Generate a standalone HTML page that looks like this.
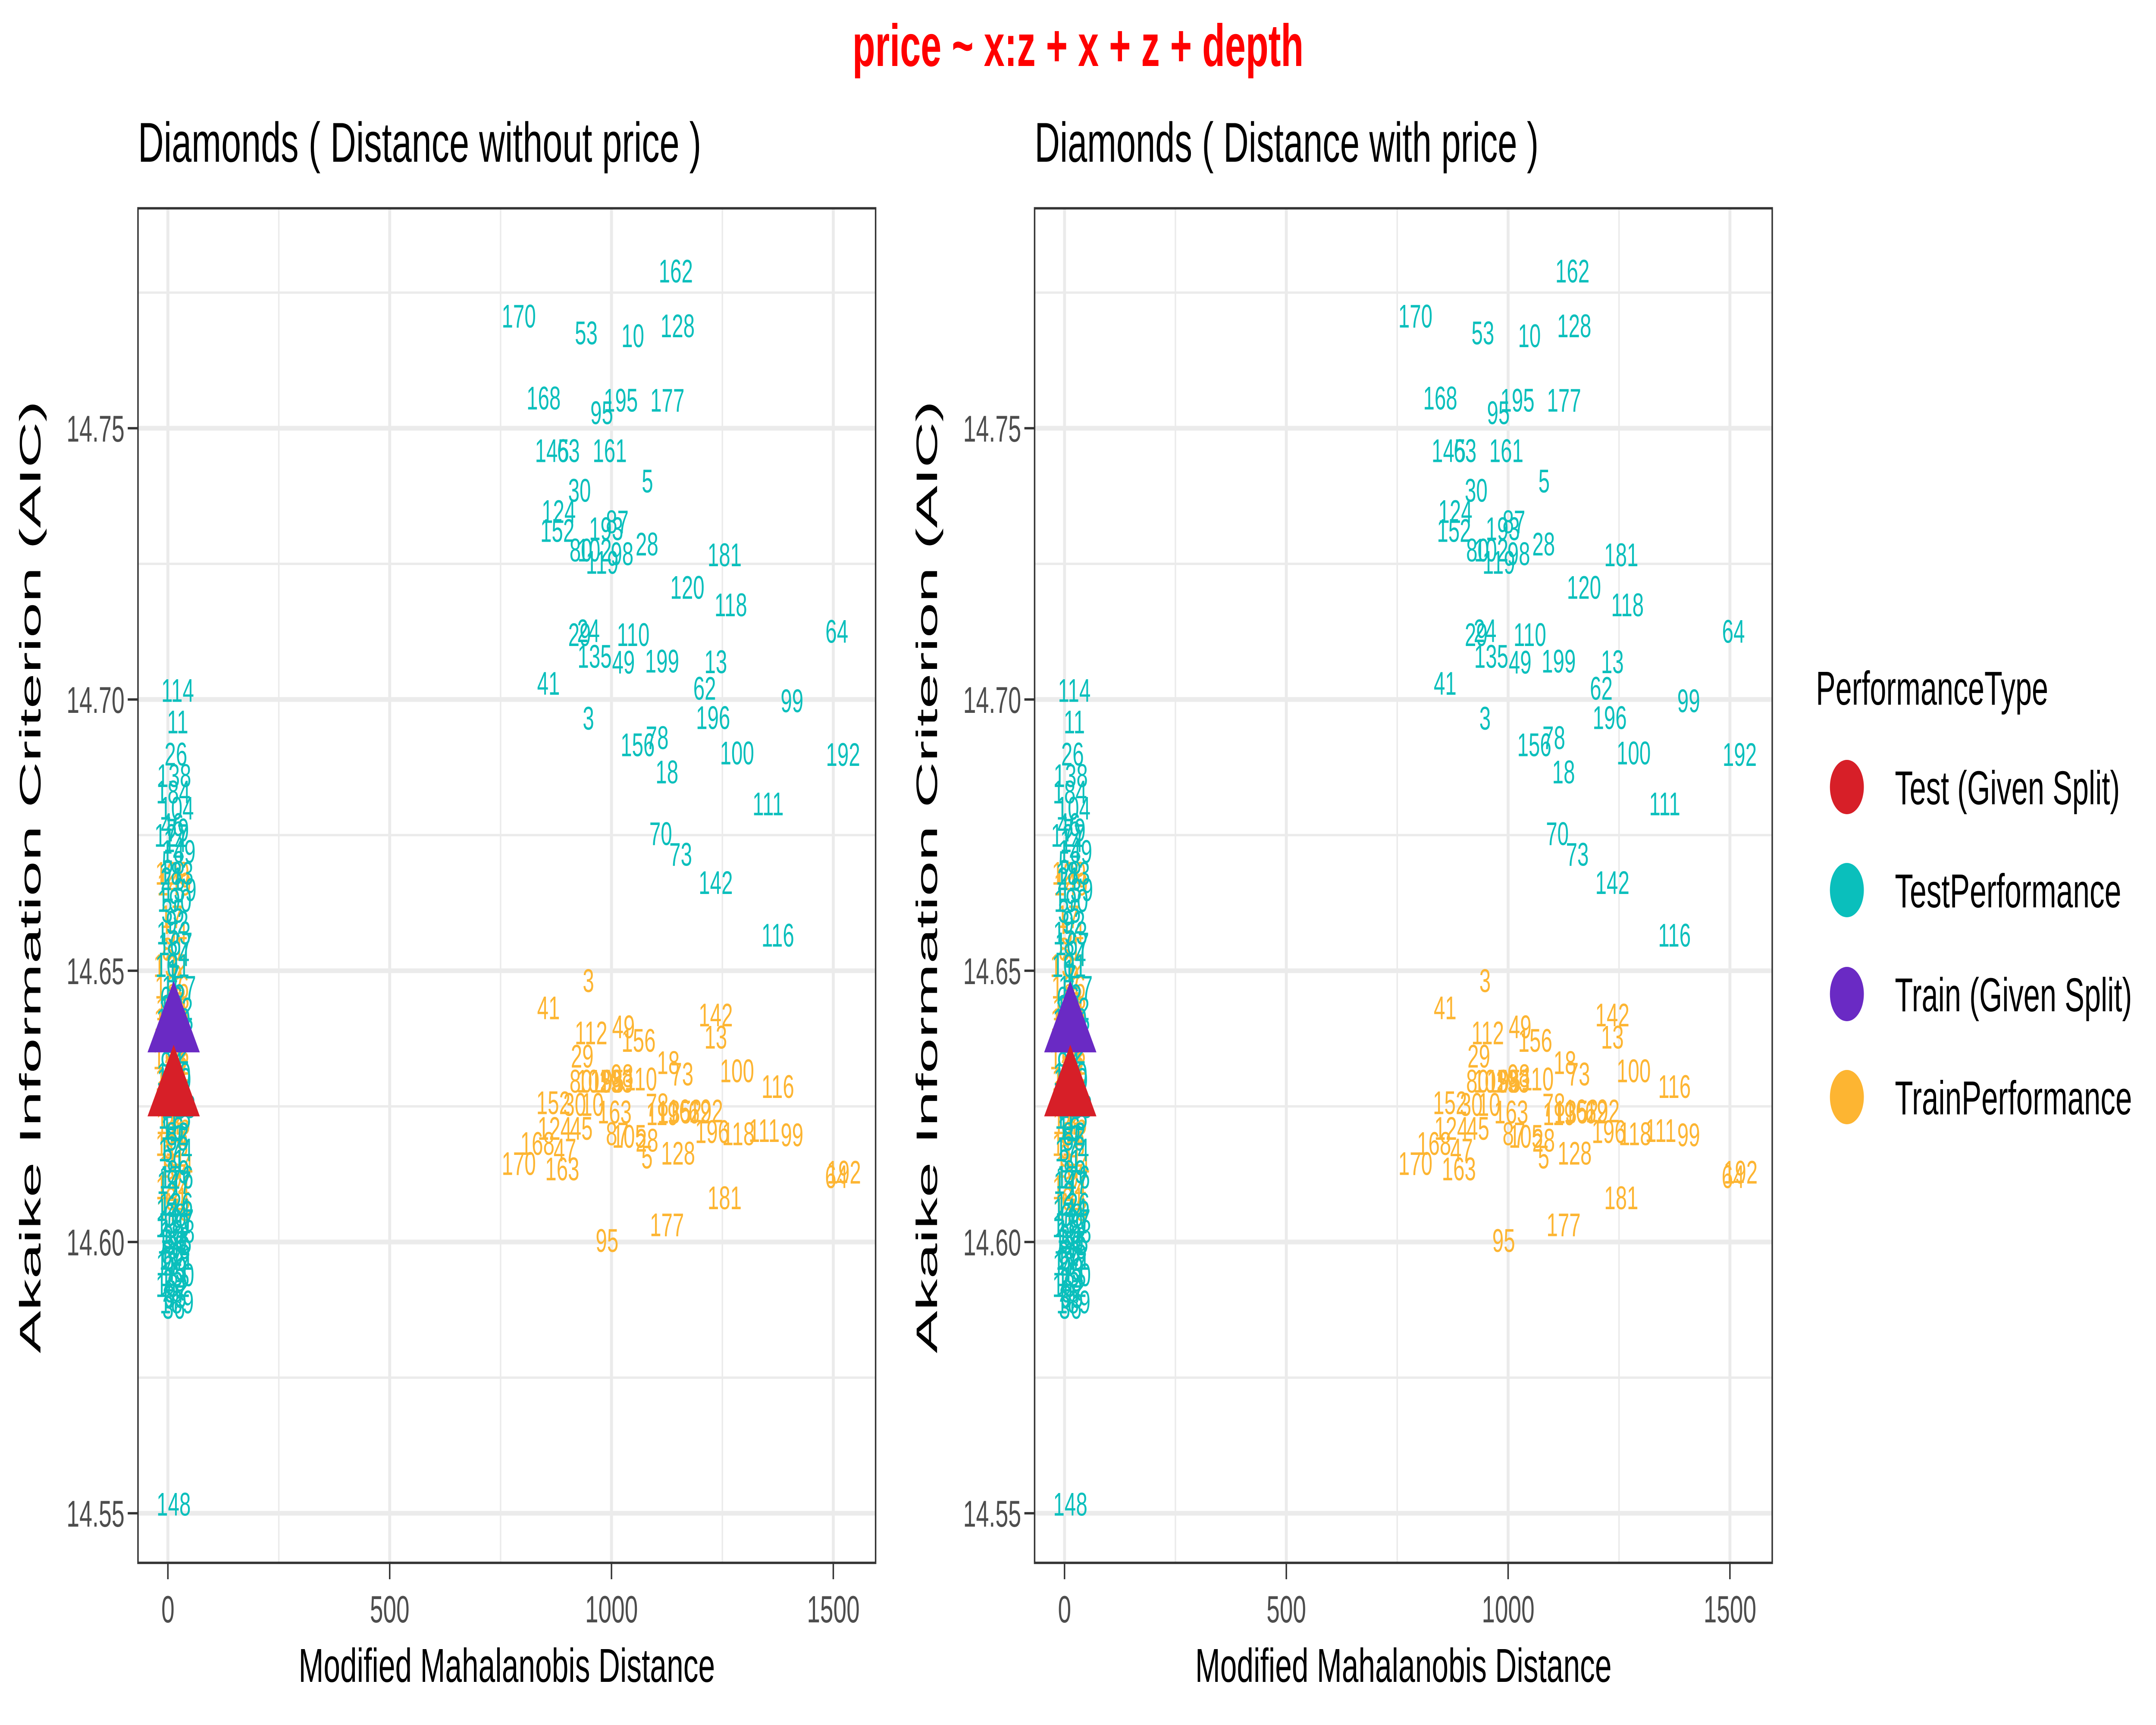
<!DOCTYPE html>
<html><head><meta charset="utf-8"><style>
html,body{margin:0;padding:0;background:#fff;width:100%;height:100%;overflow:hidden;}
svg{display:block;width:100vw;height:100vh;font-family:"Liberation Sans",Arial,sans-serif;}
</style></head><body>
<svg id="chart" viewBox="0 0 8000 4000" preserveAspectRatio="none" xmlns="http://www.w3.org/2000/svg">
<rect width="8000" height="4000" fill="#fff"/>
<text x="4000" y="153" text-anchor="middle" font-weight="bold" font-size="138" fill="#ff0000" textLength="1674" lengthAdjust="spacingAndGlyphs">price ~ x:z + x + z + depth</text>
<g id="panels"></g>
<g id="legend">
<text x="6738" y="1634" font-size="110" fill="#000" textLength="862" lengthAdjust="spacingAndGlyphs">PerformanceType</text>
</g>
</svg>
<script>
const NS="http://www.w3.org/2000/svg";
// ---- data ----
const xTicks=[0,500,1000,1500];
const xMinor=[250,750,1250];
const yTicks=[14.55,14.60,14.65,14.70,14.75];
const yTickLabels=["14.55","14.60","14.65","14.70","14.75"];
const yMinor=[14.575,14.625,14.675,14.725,14.775];
const testFarLabels=["162","170","53","10","128","168","95","195","177","145","63","161","5","30","124","152","87","193","80","102","119","98","28","181","120","118","24","29","110","135","49","199","13","64","41","62","99","3","196","78","156","100","192","18","111","70","73","142","116","114","11","148"];
const testFarX=[1145,791,943,1048,1149,847,978,1021,1126,866,903,996,1081,928,881,878,1013,988,931,962,979,1024,1080,1255,1171,1269,948,928,1049,962,1027,1114,1235,1508,858,1210,1407,948,1229,1103,1059,1283,1522,1125,1353,1111,1156,1235,1375,22,22,13];
const testFarY=[14.779,14.7707,14.7676,14.7671,14.7689,14.7556,14.7529,14.7552,14.7552,14.7459,14.7459,14.7459,14.7403,14.7386,14.7347,14.7312,14.7328,14.7315,14.7276,14.7276,14.7253,14.7269,14.7287,14.7267,14.7207,14.7175,14.7127,14.712,14.712,14.708,14.7069,14.7071,14.707,14.7126,14.703,14.7021,14.6998,14.6966,14.6967,14.693,14.6917,14.6902,14.6899,14.6867,14.6808,14.6753,14.6715,14.6663,14.6566,14.7017,14.6959,14.5517];
const trainFarLabels=["3","41","142","112","49","156","13","29","18","73","100","116","110","98","80","102","195","53","193","163","152","30","10","78","119","135","162","62","192","124","45","87","105","28","5","128","196","118","111","99","168","47","170","163","64","192","181","177","95"];
const trainFarX=[948,858,1235,954,1027,1061,1235,934,1128,1159,1283,1375,1066,1024,931,960,990,1000,1010,1007,869,917,957,1103,1115,1142,1165,1199,1213,872,932,1013,1040,1080,1080,1150,1227,1286,1344,1407,833,895,791,889,1507,1524,1255,1125,990];
const trainFarY=[14.6482,14.6432,14.6419,14.6386,14.6397,14.6372,14.6378,14.6343,14.6331,14.631,14.6316,14.6287,14.6301,14.6307,14.6297,14.6297,14.6297,14.6297,14.6297,14.624,14.6257,14.6254,14.6254,14.6253,14.6237,14.624,14.6242,14.624,14.6242,14.621,14.621,14.62,14.6195,14.6188,14.6157,14.6164,14.6204,14.62,14.6206,14.6198,14.6182,14.617,14.6145,14.6135,14.6121,14.6129,14.6082,14.6032,14.6003];
const testNearLabels=["26","138","184","104","46","79","127","14","149","58","183","21","139","190","35","92","153","167","84","101","7","157","66","122","180","143","39","12","94","160","71","133","188","115","16","55","174","31","89","147","2","126","68","197","159","108","33","175","86","60","171","137","43","150","23","182","97","65","189","36","57","50","144","176","82","130","44","1"];
const testNearX=[18,14,12,20,10,22,8,16,24,12,19,9,26,15,11,21,13,17,23,10,14,25,8,18,12,20,16,22,9,13,19,11,24,15,10,21,17,12,23,14,9,18,16,20,11,22,13,15,24,10,19,12,17,21,14,11,18,16,20,13,15,17,12,19,22,14,16,10];
const testNearY=[14.690,14.686,14.683,14.680,14.677,14.676,14.675,14.674,14.672,14.670,14.668,14.667,14.665,14.663,14.661,14.659,14.657,14.655,14.653,14.651,14.649,14.647,14.645,14.643,14.641,14.639,14.637,14.635,14.633,14.631,14.629,14.627,14.625,14.623,14.621,14.619,14.617,14.615,14.613,14.611,14.609,14.607,14.605,14.604,14.603,14.602,14.601,14.600,14.599,14.598,14.597,14.596,14.595,14.594,14.593,14.592,14.591,14.590,14.589,14.588,14.597,14.600,14.606,14.612,14.620,14.630,14.640,14.650];
const trainNearLabels=["129","149","17","54","81","132","9","166","48","103","140","25","88","158","34","121","74","185","6","146","37","113","91","154","19","134","61","178","42","107","15","164","85"];
const trainNearX=[10,14,8,18,12,6,20,9,15,11,7,22,13,5,17,10,24,8,16,12,21,9,14,18,6,11,19,13,23,10,15,12,17];
const trainNearY=[14.668,14.666,14.660,14.657,14.654,14.651,14.649,14.647,14.645,14.643,14.641,14.639,14.637,14.634,14.632,14.630,14.628,14.626,14.624,14.622,14.620,14.618,14.616,14.614,14.612,14.610,14.608,14.606,14.633,14.638,14.644,14.628,14.620];
const splitNames=["Train (Given Split)","Test (Given Split)"];
const splitX=[13,13];
const splitY=[14.641,14.6292];
const legendLabels=["Test (Given Split)","TestPerformance","Train (Given Split)","TrainPerformance"];
const legendColors=["#d71f28","#0abfbc","#6a2ac4","#fdb532"];
const legendWidths=[835,840,880,880];
const subtitles=["Diamonds ( Distance without price )","Diamonds ( Distance with price )"];

const TEAL="#0abfbc",ORANGE="#fdb532";
const panelOffsets=[0,3327];
const L=512,R=3249,T=483,B=3624;
function sx(v,o){return o+623+v*1.646;}
function sy(v){return 993+(14.75-v)*12580;}
function mk(tag,attrs,parent){const e=document.createElementNS(NS,tag);for(const k in attrs)e.setAttribute(k,attrs[k]);parent.appendChild(e);return e;}

const panels=document.getElementById('panels');
panelOffsets.forEach((o,pi)=>{
  const g=mk('g',{},panels);
  
  
  const bg=mk('rect',{x:L+o,y:T,width:R-L,height:B-T,fill:'#fff'},g);
  
  
  xMinor.forEach(v=>{const l=mk('line',{x1:sx(v,o),x2:sx(v,o),y1:T,y2:B,stroke:'#ebebeb','stroke-width':5.5},g);
    
    });
  yMinor.forEach(v=>{const l=mk('line',{x1:L+o,x2:R+o,y1:sy(v),y2:sy(v),stroke:'#ebebeb','stroke-width':5.5},g);
    
    });
  xTicks.forEach(v=>{const l=mk('line',{x1:sx(v,o),x2:sx(v,o),y1:T,y2:B,stroke:'#ebebeb','stroke-width':11},g);
    
    
    const t=mk('line',{x1:sx(v,o),x2:sx(v,o),y1:B,y2:B+38,stroke:'#333','stroke-width':5.5},g);
    
    
    const tl=mk('text',{x:sx(v,o),y:3762,'text-anchor':'middle','font-size':88,fill:'#4d4d4d'},g);
    tl.textContent=String(v);
    
    });
  yTicks.forEach((v,i)=>{const l=mk('line',{x1:L+o,x2:R+o,y1:sy(v),y2:sy(v),stroke:'#ebebeb','stroke-width':11},g);
    
    
    const t=mk('line',{x1:L+o-38,x2:L+o,y1:sy(v),y2:sy(v),stroke:'#333','stroke-width':5.5},g);
    
    
    const tl=mk('text',{x:L+o-50,y:sy(v)+31,'text-anchor':'end','font-size':86,fill:'#4d4d4d'},g);
    tl.textContent=yTickLabels[i];
    
    });
  function labels(lbl,xs,ys,col,name){
    lbl.forEach((s,i)=>{const t=mk('text',{x:sx(xs[i],o),y:sy(ys[i])+27,'text-anchor':'middle','font-size':76,fill:col},g);
      t.textContent=s;
      
      });
  }
  labels(trainNearLabels,trainNearX,trainNearY,ORANGE,'train-performance-label');
  labels(testNearLabels,testNearX,testNearY,TEAL,'test-performance-label');
  labels(trainFarLabels,trainFarX,trainFarY,ORANGE,'train-performance-label');
  labels(testFarLabels,testFarX,testFarY,TEAL,'test-performance-label');
  splitNames.forEach((n,i)=>{const cx=sx(splitX[i],o),cy=sy(splitY[i]);
    const p=mk('polygon',{points:`${cx},${cy-90} ${cx-97},${cy+76} ${cx+97},${cy+76}`,fill:i==0?'#6a2ac4':'#d71f28'},g);
    
    });
  const br=mk('rect',{x:L+o,y:T,width:R-L,height:B-T,fill:'none',stroke:'#333','stroke-width':5.5},g);
  
  
  const st=mk('text',{x:L+o,y:375,'font-size':130,fill:'#000',textLength:pi==0?2090:1870,lengthAdjust:'spacingAndGlyphs'},g);
  st.textContent=subtitles[pi];
  
  
  const xt=mk('text',{x:(L+R)/2+o,y:3900,'text-anchor':'middle','font-size':110,fill:'#000',textLength:1545,lengthAdjust:'spacingAndGlyphs'},g);
  xt.textContent='Modified Mahalanobis Distance';
  
  
  const yx=150+o, yc=(T+B)/2-20;
  const yt=mk('text',{x:yx,y:yc,'text-anchor':'middle','font-size':110,fill:'#000',transform:`rotate(-90 ${yx} ${yc})`,textLength:2209,lengthAdjust:'spacingAndGlyphs'},g);
  yt.textContent='Akaike Information Criterion (AIC)';
  
  
});
const lg=document.getElementById('legend');
const legY=[1825,2064,2305,2544];
legendLabels.forEach((s,i)=>{
  const c=mk('circle',{cx:6853,cy:legY[i],r:63,fill:legendColors[i]},lg);
  
  
  const t=mk('text',{x:7031,y:legY[i]+40,'font-size':110,fill:'#000',textLength:legendWidths[i],lengthAdjust:'spacingAndGlyphs'},lg);
  t.textContent=s;
  
  
});
</script>
</body></html>
